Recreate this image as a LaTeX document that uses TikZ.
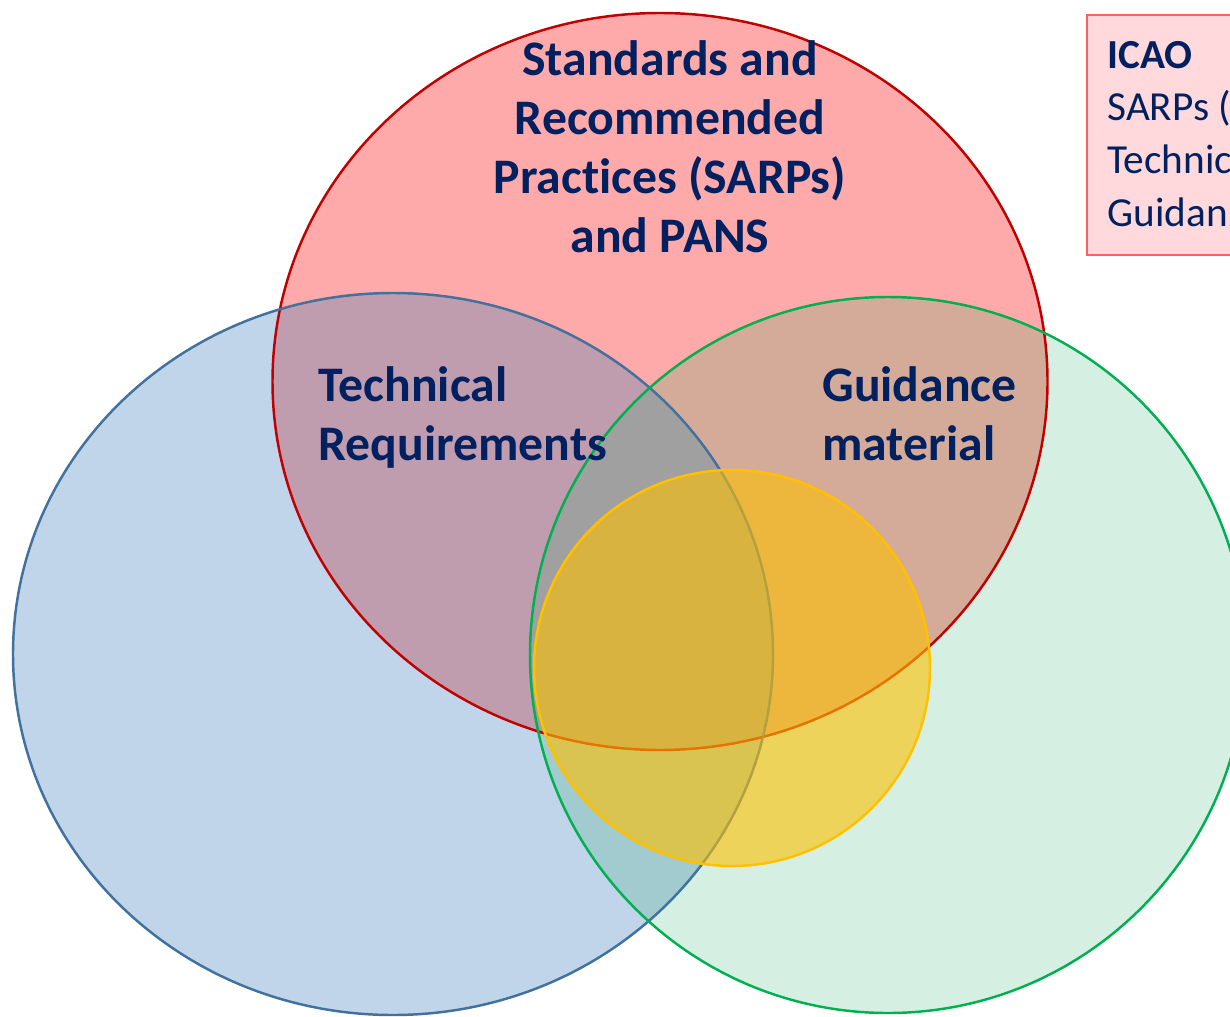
\documentclass[tikz,border=0pt]{standalone}
\usepackage{fontspec}
\setmainfont{Carlito}[Ligatures=NoCommon]

\definecolor{navytext}{HTML}{002060}
\definecolor{sarpsline}{HTML}{C00000}
\definecolor{techline}{HTML}{41719C}
\definecolor{guideline}{HTML}{00B050}
\definecolor{coreyellow}{HTML}{FFC000}
\definecolor{sarpsfill}{HTML}{FFAAAA}
\definecolor{techfill}{HTML}{C0D5EA}
\definecolor{guidefill}{HTML}{D5F0E2}
\definecolor{techsarps}{HTML}{BF9CAE}
\definecolor{guidesarps}{HTML}{D4AB99}
\definecolor{techguide}{HTML}{A1CBCE}
\definecolor{allthree}{HTML}{A0A0A0}
\definecolor{legendfill}{HTML}{FFD9DB}
\definecolor{legendline}{HTML}{FF5F5F}

% the four areas
\newcommand{\sarpsarea}{(660,381.5) ellipse [x radius=387.5, y radius=368.5]}
\newcommand{\techarea}{(393,654) ellipse [x radius=380, y radius=361]}
\newcommand{\guidearea}{(888,655) ellipse [x radius=358, y radius=358]}
\newcommand{\corearea}{(732,668) circle [radius=198]}

\begin{document}
\begin{tikzpicture}[x=0.02cm, y=-0.02cm,
    outline/.style={line width=1.4pt},
    maintext/.style={text=navytext, inner sep=0pt,
      font=\fontsize{28.3}{33.4}\selectfont\bfseries},
    legendtext/.style={text=navytext, inner sep=0pt, align=left,
      font=\fontsize{23.5}{29.9}\selectfont}]
  \clip (0,0) rectangle (1230,1017);

  % plain fills
  \fill[techfill] \techarea;
  \fill[guidefill] \guidearea;
  \fill[sarpsfill] \sarpsarea;

  % overlaps
  \begin{scope}
    \clip \techarea;
    \fill[techguide] \guidearea;
  \end{scope}
  \begin{scope}
    \clip \techarea;
    \fill[techsarps] \sarpsarea;
  \end{scope}
  \begin{scope}
    \clip \guidearea;
    \fill[guidesarps] \sarpsarea;
  \end{scope}
  \begin{scope}
    \clip \techarea;
    \clip \guidearea;
    \fill[allthree] \sarpsarea;
  \end{scope}

  % outlines
  \draw[outline, sarpsline] \sarpsarea;
  \draw[outline, techline] \techarea;
  \draw[outline, guideline] \guidearea;

  % small circle in the middle
  \fill[coreyellow, fill opacity=0.6] \corearea;
  \draw[outline, coreyellow] \corearea;

  % labels (base = last line)
  \node[maintext, align=center, anchor=base] (sarps) at (670,252)
    {Standards and\\Recommended\\Practices (SARPs)\\and PANS};
  \node[maintext, align=left, anchor=base west] (techreq) at (318,460)
    {Technical\\Requirements};
  \node[maintext, align=left, anchor=base west] (guidance) at (822,460)
    {Guidance\\material};

  % legend box
  \draw[line width=1.4pt, legendline, fill=legendfill]
    (1087,15) rectangle (1250,255);
  \node[legendtext, anchor=base west] (icao) at (1107,226)
    {\textbf{ICAO}\\SARPs (\\Technic\\Guidan};
\end{tikzpicture}
\end{document}
